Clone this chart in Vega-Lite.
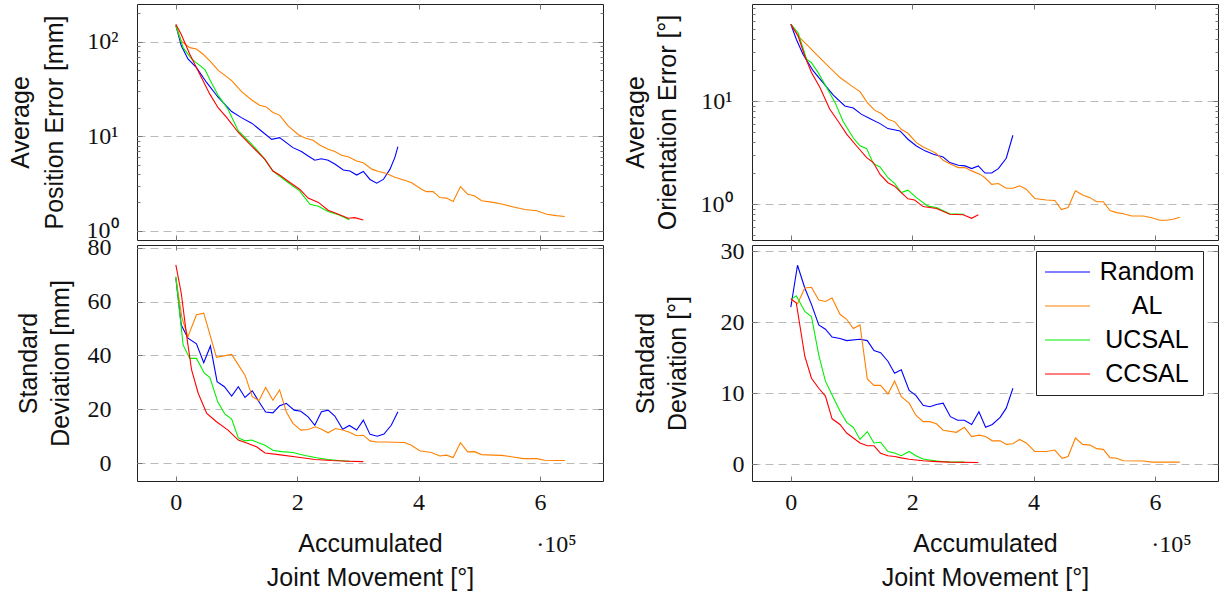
{
"$schema":"https://vega.github.io/schema/vega-lite/v6.json",
"autosize":{"type":"pad"},
"padding":{"left":7,"top":3,"right":0,"bottom":4},
"background":"white",
"data":{"name":"d"},
"datasets":{"d":[
{"p":"TL","m":"Random","x":0,"y":150},{"p":"TL","m":"Random","x":0.09,"y":91},{"p":"TL","m":"Random","x":0.2,"y":66},{"p":"TL","m":"Random","x":0.34,"y":53.5},{"p":"TL","m":"Random","x":0.51,"y":37},{"p":"TL","m":"Random","x":0.7,"y":25.8},{"p":"TL","m":"Random","x":0.92,"y":18.3},{"p":"TL","m":"Random","x":1.08,"y":15.8},{"p":"TL","m":"Random","x":1.25,"y":13.8},{"p":"TL","m":"Random","x":1.41,"y":11.4},{"p":"TL","m":"Random","x":1.58,"y":9.3},{"p":"TL","m":"Random","x":1.71,"y":9.7},{"p":"TL","m":"Random","x":1.93,"y":7.6},{"p":"TL","m":"Random","x":2.07,"y":6.9},{"p":"TL","m":"Random","x":2.18,"y":6.2},{"p":"TL","m":"Random","x":2.29,"y":5.6},{"p":"TL","m":"Random","x":2.4,"y":5.8},{"p":"TL","m":"Random","x":2.51,"y":5.6},{"p":"TL","m":"Random","x":2.62,"y":5.1},{"p":"TL","m":"Random","x":2.76,"y":4.4},{"p":"TL","m":"Random","x":2.87,"y":4.3},{"p":"TL","m":"Random","x":2.98,"y":3.9},{"p":"TL","m":"Random","x":3.09,"y":4.25},{"p":"TL","m":"Random","x":3.2,"y":3.5},{"p":"TL","m":"Random","x":3.31,"y":3.2},{"p":"TL","m":"Random","x":3.42,"y":3.5},{"p":"TL","m":"Random","x":3.53,"y":4.5},{"p":"TL","m":"Random","x":3.61,"y":6.0},{"p":"TL","m":"Random","x":3.66,"y":7.8},
{"p":"TL","m":"AL","x":0,"y":150},{"p":"TL","m":"AL","x":0.09,"y":102},{"p":"TL","m":"AL","x":0.23,"y":87},{"p":"TL","m":"AL","x":0.34,"y":84},{"p":"TL","m":"AL","x":0.45,"y":74},{"p":"TL","m":"AL","x":0.56,"y":63},{"p":"TL","m":"AL","x":0.7,"y":50},{"p":"TL","m":"AL","x":0.92,"y":39},{"p":"TL","m":"AL","x":1.08,"y":30},{"p":"TL","m":"AL","x":1.25,"y":24.3},{"p":"TL","m":"AL","x":1.38,"y":21.4},{"p":"TL","m":"AL","x":1.49,"y":20.5},{"p":"TL","m":"AL","x":1.6,"y":17.9},{"p":"TL","m":"AL","x":1.71,"y":16.8},{"p":"TL","m":"AL","x":1.85,"y":12.9},{"p":"TL","m":"AL","x":2.02,"y":10.4},{"p":"TL","m":"AL","x":2.13,"y":9.6},{"p":"TL","m":"AL","x":2.26,"y":9.1},{"p":"TL","m":"AL","x":2.37,"y":8.1},{"p":"TL","m":"AL","x":2.51,"y":7.3},{"p":"TL","m":"AL","x":2.62,"y":6.9},{"p":"TL","m":"AL","x":2.73,"y":6.3},{"p":"TL","m":"AL","x":2.84,"y":6.1},{"p":"TL","m":"AL","x":2.98,"y":5.5},{"p":"TL","m":"AL","x":3.09,"y":5.25},{"p":"TL","m":"AL","x":3.23,"y":4.5},{"p":"TL","m":"AL","x":3.34,"y":4.25},{"p":"TL","m":"AL","x":3.45,"y":4.1},{"p":"TL","m":"AL","x":3.61,"y":3.7},{"p":"TL","m":"AL","x":3.77,"y":3.44},{"p":"TL","m":"AL","x":3.88,"y":3.25},{"p":"TL","m":"AL","x":4.05,"y":2.76},{"p":"TL","m":"AL","x":4.13,"y":2.6},{"p":"TL","m":"AL","x":4.24,"y":2.6},{"p":"TL","m":"AL","x":4.35,"y":2.25},{"p":"TL","m":"AL","x":4.46,"y":2.22},{"p":"TL","m":"AL","x":4.57,"y":2.04},{"p":"TL","m":"AL","x":4.69,"y":2.94},{"p":"TL","m":"AL","x":4.81,"y":2.44},{"p":"TL","m":"AL","x":4.92,"y":2.35},{"p":"TL","m":"AL","x":5.04,"y":2.08},{"p":"TL","m":"AL","x":5.23,"y":2.0},{"p":"TL","m":"AL","x":5.37,"y":1.92},{"p":"TL","m":"AL","x":5.53,"y":1.81},{"p":"TL","m":"AL","x":5.75,"y":1.68},{"p":"TL","m":"AL","x":5.95,"y":1.63},{"p":"TL","m":"AL","x":6.11,"y":1.5},{"p":"TL","m":"AL","x":6.27,"y":1.45},{"p":"TL","m":"AL","x":6.41,"y":1.42},
{"p":"TL","m":"UCSAL","x":0,"y":150},{"p":"TL","m":"UCSAL","x":0.12,"y":87},{"p":"TL","m":"UCSAL","x":0.26,"y":66},{"p":"TL","m":"UCSAL","x":0.34,"y":60},{"p":"TL","m":"UCSAL","x":0.48,"y":51},{"p":"TL","m":"UCSAL","x":0.56,"y":40},{"p":"TL","m":"UCSAL","x":0.7,"y":27},{"p":"TL","m":"UCSAL","x":0.86,"y":19.4},{"p":"TL","m":"UCSAL","x":1.03,"y":11.4},{"p":"TL","m":"UCSAL","x":1.25,"y":8.3},{"p":"TL","m":"UCSAL","x":1.44,"y":6.0},{"p":"TL","m":"UCSAL","x":1.6,"y":4.3},{"p":"TL","m":"UCSAL","x":1.85,"y":3.25},{"p":"TL","m":"UCSAL","x":2.04,"y":2.65},{"p":"TL","m":"UCSAL","x":2.21,"y":1.91},{"p":"TL","m":"UCSAL","x":2.35,"y":1.82},{"p":"TL","m":"UCSAL","x":2.51,"y":1.6},{"p":"TL","m":"UCSAL","x":2.68,"y":1.48},{"p":"TL","m":"UCSAL","x":2.86,"y":1.31},
{"p":"TL","m":"CCSAL","x":0,"y":154},{"p":"TL","m":"CCSAL","x":0.09,"y":120},{"p":"TL","m":"CCSAL","x":0.23,"y":74},{"p":"TL","m":"CCSAL","x":0.37,"y":49},{"p":"TL","m":"CCSAL","x":0.56,"y":28},{"p":"TL","m":"CCSAL","x":0.7,"y":20},{"p":"TL","m":"CCSAL","x":0.84,"y":15.8},{"p":"TL","m":"CCSAL","x":1.03,"y":11},{"p":"TL","m":"CCSAL","x":1.25,"y":7.9},{"p":"TL","m":"CCSAL","x":1.47,"y":5.7},{"p":"TL","m":"CCSAL","x":1.6,"y":4.3},{"p":"TL","m":"CCSAL","x":1.71,"y":3.9},{"p":"TL","m":"CCSAL","x":1.88,"y":3.25},{"p":"TL","m":"CCSAL","x":2.04,"y":2.76},{"p":"TL","m":"CCSAL","x":2.18,"y":2.22},{"p":"TL","m":"CCSAL","x":2.35,"y":2.0},{"p":"TL","m":"CCSAL","x":2.51,"y":1.65},{"p":"TL","m":"CCSAL","x":2.68,"y":1.5},{"p":"TL","m":"CCSAL","x":2.84,"y":1.36},{"p":"TL","m":"CCSAL","x":2.95,"y":1.38},{"p":"TL","m":"CCSAL","x":3.09,"y":1.3},
{"p":"TR","m":"Random","x":0,"y":56},{"p":"TR","m":"Random","x":0.09,"y":40},{"p":"TR","m":"Random","x":0.2,"y":28.6},{"p":"TR","m":"Random","x":0.37,"y":19.7},{"p":"TR","m":"Random","x":0.53,"y":15.2},{"p":"TR","m":"Random","x":0.7,"y":11.5},{"p":"TR","m":"Random","x":0.89,"y":9.0},{"p":"TR","m":"Random","x":1.03,"y":8.6},{"p":"TR","m":"Random","x":1.16,"y":7.5},{"p":"TR","m":"Random","x":1.3,"y":6.8},{"p":"TR","m":"Random","x":1.47,"y":6.07},{"p":"TR","m":"Random","x":1.6,"y":5.43},{"p":"TR","m":"Random","x":1.8,"y":5.15},{"p":"TR","m":"Random","x":1.93,"y":4.28},{"p":"TR","m":"Random","x":2.07,"y":3.68},{"p":"TR","m":"Random","x":2.21,"y":3.3},{"p":"TR","m":"Random","x":2.35,"y":3.06},{"p":"TR","m":"Random","x":2.51,"y":2.88},{"p":"TR","m":"Random","x":2.62,"y":2.54},{"p":"TR","m":"Random","x":2.76,"y":2.39},{"p":"TR","m":"Random","x":2.87,"y":2.36},{"p":"TR","m":"Random","x":2.98,"y":2.22},{"p":"TR","m":"Random","x":3.09,"y":2.36},{"p":"TR","m":"Random","x":3.2,"y":2.01},{"p":"TR","m":"Random","x":3.31,"y":2.01},{"p":"TR","m":"Random","x":3.42,"y":2.22},{"p":"TR","m":"Random","x":3.55,"y":2.8},{"p":"TR","m":"Random","x":3.66,"y":4.68},
{"p":"TR","m":"AL","x":0,"y":56},{"p":"TR","m":"AL","x":0.12,"y":43},{"p":"TR","m":"AL","x":0.26,"y":35.7},{"p":"TR","m":"AL","x":0.42,"y":28.6},{"p":"TR","m":"AL","x":0.64,"y":21.2},{"p":"TR","m":"AL","x":0.81,"y":17},{"p":"TR","m":"AL","x":1.0,"y":14.1},{"p":"TR","m":"AL","x":1.14,"y":12.4},{"p":"TR","m":"AL","x":1.26,"y":9.7},{"p":"TR","m":"AL","x":1.38,"y":8.2},{"p":"TR","m":"AL","x":1.49,"y":7.6},{"p":"TR","m":"AL","x":1.6,"y":6.7},{"p":"TR","m":"AL","x":1.71,"y":6.35},{"p":"TR","m":"AL","x":1.82,"y":5.35},{"p":"TR","m":"AL","x":1.93,"y":4.89},{"p":"TR","m":"AL","x":2.07,"y":3.97},{"p":"TR","m":"AL","x":2.18,"y":3.6},{"p":"TR","m":"AL","x":2.32,"y":3.3},{"p":"TR","m":"AL","x":2.4,"y":3.1},{"p":"TR","m":"AL","x":2.51,"y":2.67},{"p":"TR","m":"AL","x":2.62,"y":2.48},{"p":"TR","m":"AL","x":2.76,"y":2.27},{"p":"TR","m":"AL","x":2.87,"y":2.27},{"p":"TR","m":"AL","x":2.98,"y":2.11},{"p":"TR","m":"AL","x":3.12,"y":1.95},{"p":"TR","m":"AL","x":3.2,"y":1.81},{"p":"TR","m":"AL","x":3.31,"y":1.56},{"p":"TR","m":"AL","x":3.42,"y":1.59},{"p":"TR","m":"AL","x":3.55,"y":1.43},{"p":"TR","m":"AL","x":3.66,"y":1.43},{"p":"TR","m":"AL","x":3.77,"y":1.51},{"p":"TR","m":"AL","x":3.88,"y":1.4},{"p":"TR","m":"AL","x":4.02,"y":1.14},{"p":"TR","m":"AL","x":4.21,"y":1.1},{"p":"TR","m":"AL","x":4.35,"y":1.09},{"p":"TR","m":"AL","x":4.46,"y":0.89},{"p":"TR","m":"AL","x":4.57,"y":0.93},{"p":"TR","m":"AL","x":4.69,"y":1.35},{"p":"TR","m":"AL","x":4.81,"y":1.23},{"p":"TR","m":"AL","x":4.93,"y":1.16},{"p":"TR","m":"AL","x":5.04,"y":1.06},{"p":"TR","m":"AL","x":5.15,"y":1.06},{"p":"TR","m":"AL","x":5.26,"y":0.87},{"p":"TR","m":"AL","x":5.37,"y":0.83},{"p":"TR","m":"AL","x":5.48,"y":0.81},{"p":"TR","m":"AL","x":5.62,"y":0.77},{"p":"TR","m":"AL","x":5.81,"y":0.77},{"p":"TR","m":"AL","x":5.95,"y":0.74},{"p":"TR","m":"AL","x":6.08,"y":0.7},{"p":"TR","m":"AL","x":6.19,"y":0.7},{"p":"TR","m":"AL","x":6.3,"y":0.715},{"p":"TR","m":"AL","x":6.41,"y":0.75},
{"p":"TR","m":"UCSAL","x":0,"y":56},{"p":"TR","m":"UCSAL","x":0.12,"y":46},{"p":"TR","m":"UCSAL","x":0.26,"y":25.6},{"p":"TR","m":"UCSAL","x":0.34,"y":23.7},{"p":"TR","m":"UCSAL","x":0.45,"y":19},{"p":"TR","m":"UCSAL","x":0.59,"y":13.6},{"p":"TR","m":"UCSAL","x":0.73,"y":9.7},{"p":"TR","m":"UCSAL","x":0.86,"y":6.4},{"p":"TR","m":"UCSAL","x":1.03,"y":4.4},{"p":"TR","m":"UCSAL","x":1.14,"y":3.7},{"p":"TR","m":"UCSAL","x":1.25,"y":3.47},{"p":"TR","m":"UCSAL","x":1.36,"y":2.48},{"p":"TR","m":"UCSAL","x":1.47,"y":2.3},{"p":"TR","m":"UCSAL","x":1.6,"y":1.81},{"p":"TR","m":"UCSAL","x":1.71,"y":1.6},{"p":"TR","m":"UCSAL","x":1.82,"y":1.3},{"p":"TR","m":"UCSAL","x":1.93,"y":1.37},{"p":"TR","m":"UCSAL","x":2.07,"y":1.16},{"p":"TR","m":"UCSAL","x":2.26,"y":0.96},{"p":"TR","m":"UCSAL","x":2.4,"y":0.93},{"p":"TR","m":"UCSAL","x":2.62,"y":0.81},{"p":"TR","m":"UCSAL","x":2.86,"y":0.8},
{"p":"TR","m":"CCSAL","x":0,"y":56},{"p":"TR","m":"CCSAL","x":0.12,"y":43},{"p":"TR","m":"CCSAL","x":0.23,"y":27.5},{"p":"TR","m":"CCSAL","x":0.34,"y":19},{"p":"TR","m":"CCSAL","x":0.48,"y":13.6},{"p":"TR","m":"CCSAL","x":0.64,"y":8.4},{"p":"TR","m":"CCSAL","x":0.78,"y":6.4},{"p":"TR","m":"CCSAL","x":0.92,"y":4.8},{"p":"TR","m":"CCSAL","x":1.08,"y":3.7},{"p":"TR","m":"CCSAL","x":1.25,"y":2.84},{"p":"TR","m":"CCSAL","x":1.36,"y":2.54},{"p":"TR","m":"CCSAL","x":1.47,"y":1.95},{"p":"TR","m":"CCSAL","x":1.6,"y":1.62},{"p":"TR","m":"CCSAL","x":1.71,"y":1.5},{"p":"TR","m":"CCSAL","x":1.82,"y":1.3},{"p":"TR","m":"CCSAL","x":1.93,"y":1.13},{"p":"TR","m":"CCSAL","x":2.04,"y":1.1},{"p":"TR","m":"CCSAL","x":2.18,"y":0.95},{"p":"TR","m":"CCSAL","x":2.4,"y":0.91},{"p":"TR","m":"CCSAL","x":2.62,"y":0.8},{"p":"TR","m":"CCSAL","x":2.84,"y":0.79},{"p":"TR","m":"CCSAL","x":2.98,"y":0.73},{"p":"TR","m":"CCSAL","x":3.09,"y":0.79},
{"p":"BL","m":"Random","x":0,"y":68.7},{"p":"BL","m":"Random","x":0.09,"y":51.3},{"p":"BL","m":"Random","x":0.2,"y":46.4},{"p":"BL","m":"Random","x":0.34,"y":44.3},{"p":"BL","m":"Random","x":0.46,"y":37.3},{"p":"BL","m":"Random","x":0.57,"y":43.5},{"p":"BL","m":"Random","x":0.68,"y":30.3},{"p":"BL","m":"Random","x":0.8,"y":28.4},{"p":"BL","m":"Random","x":0.92,"y":24.9},{"p":"BL","m":"Random","x":1.03,"y":28.4},{"p":"BL","m":"Random","x":1.14,"y":24.4},{"p":"BL","m":"Random","x":1.26,"y":26.9},{"p":"BL","m":"Random","x":1.37,"y":22.8},{"p":"BL","m":"Random","x":1.48,"y":19.0},{"p":"BL","m":"Random","x":1.6,"y":18.7},{"p":"BL","m":"Random","x":1.71,"y":21.3},{"p":"BL","m":"Random","x":1.82,"y":22.2},{"p":"BL","m":"Random","x":1.95,"y":19.7},{"p":"BL","m":"Random","x":2.06,"y":19.3},{"p":"BL","m":"Random","x":2.18,"y":17.2},{"p":"BL","m":"Random","x":2.29,"y":14.1},{"p":"BL","m":"Random","x":2.4,"y":19.1},{"p":"BL","m":"Random","x":2.51,"y":19.7},{"p":"BL","m":"Random","x":2.62,"y":17.5},{"p":"BL","m":"Random","x":2.75,"y":12.6},{"p":"BL","m":"Random","x":2.86,"y":14.0},{"p":"BL","m":"Random","x":2.98,"y":12.3},{"p":"BL","m":"Random","x":3.09,"y":16.0},{"p":"BL","m":"Random","x":3.2,"y":10.7},{"p":"BL","m":"Random","x":3.32,"y":10.0},{"p":"BL","m":"Random","x":3.43,"y":10.8},{"p":"BL","m":"Random","x":3.55,"y":14.1},{"p":"BL","m":"Random","x":3.66,"y":19.1},
{"p":"BL","m":"AL","x":0,"y":69},{"p":"BL","m":"AL","x":0.1,"y":54},{"p":"BL","m":"AL","x":0.2,"y":47},{"p":"BL","m":"AL","x":0.34,"y":55.1},{"p":"BL","m":"AL","x":0.46,"y":55.7},{"p":"BL","m":"AL","x":0.67,"y":39.3},{"p":"BL","m":"AL","x":0.92,"y":40.4},{"p":"BL","m":"AL","x":1.03,"y":36.5},{"p":"BL","m":"AL","x":1.14,"y":32.7},{"p":"BL","m":"AL","x":1.26,"y":24.7},{"p":"BL","m":"AL","x":1.37,"y":23.2},{"p":"BL","m":"AL","x":1.48,"y":28.1},{"p":"BL","m":"AL","x":1.6,"y":23.4},{"p":"BL","m":"AL","x":1.71,"y":27.2},{"p":"BL","m":"AL","x":1.82,"y":19.1},{"p":"BL","m":"AL","x":1.93,"y":14.8},{"p":"BL","m":"AL","x":2.06,"y":12.3},{"p":"BL","m":"AL","x":2.18,"y":12.5},{"p":"BL","m":"AL","x":2.3,"y":13.5},{"p":"BL","m":"AL","x":2.4,"y":12.6},{"p":"BL","m":"AL","x":2.51,"y":11.3},{"p":"BL","m":"AL","x":2.63,"y":12.9},{"p":"BL","m":"AL","x":2.75,"y":12.3},{"p":"BL","m":"AL","x":2.86,"y":11.5},{"p":"BL","m":"AL","x":2.98,"y":10.2},{"p":"BL","m":"AL","x":3.09,"y":10.4},{"p":"BL","m":"AL","x":3.2,"y":8.3},{"p":"BL","m":"AL","x":3.31,"y":7.9},{"p":"BL","m":"AL","x":3.45,"y":7.9},{"p":"BL","m":"AL","x":3.61,"y":7.8},{"p":"BL","m":"AL","x":3.77,"y":7.7},{"p":"BL","m":"AL","x":3.88,"y":6.7},{"p":"BL","m":"AL","x":4.02,"y":4.6},{"p":"BL","m":"AL","x":4.21,"y":4.0},{"p":"BL","m":"AL","x":4.35,"y":2.7},{"p":"BL","m":"AL","x":4.46,"y":3.0},{"p":"BL","m":"AL","x":4.57,"y":2.1},{"p":"BL","m":"AL","x":4.69,"y":7.6},{"p":"BL","m":"AL","x":4.81,"y":4.2},{"p":"BL","m":"AL","x":4.92,"y":4.3},{"p":"BL","m":"AL","x":5.04,"y":3.2},{"p":"BL","m":"AL","x":5.23,"y":3.0},{"p":"BL","m":"AL","x":5.37,"y":2.9},{"p":"BL","m":"AL","x":5.53,"y":2.4},{"p":"BL","m":"AL","x":5.73,"y":1.7},{"p":"BL","m":"AL","x":5.95,"y":1.7},{"p":"BL","m":"AL","x":6.08,"y":1.1},{"p":"BL","m":"AL","x":6.27,"y":1.0},{"p":"BL","m":"AL","x":6.41,"y":1.0},
{"p":"BL","m":"UCSAL","x":0,"y":69.3},{"p":"BL","m":"UCSAL","x":0.12,"y":43.9},{"p":"BL","m":"UCSAL","x":0.23,"y":38.9},{"p":"BL","m":"UCSAL","x":0.34,"y":38.9},{"p":"BL","m":"UCSAL","x":0.47,"y":33.4},{"p":"BL","m":"UCSAL","x":0.56,"y":31.9},{"p":"BL","m":"UCSAL","x":0.69,"y":22.8},{"p":"BL","m":"UCSAL","x":0.81,"y":18.2},{"p":"BL","m":"UCSAL","x":0.92,"y":16.4},{"p":"BL","m":"UCSAL","x":1.03,"y":9.4},{"p":"BL","m":"UCSAL","x":1.14,"y":8.3},{"p":"BL","m":"UCSAL","x":1.25,"y":8.6},{"p":"BL","m":"UCSAL","x":1.36,"y":7.6},{"p":"BL","m":"UCSAL","x":1.47,"y":6.7},{"p":"BL","m":"UCSAL","x":1.6,"y":4.8},{"p":"BL","m":"UCSAL","x":1.74,"y":4.3},{"p":"BL","m":"UCSAL","x":1.93,"y":4.0},{"p":"BL","m":"UCSAL","x":2.13,"y":2.85},{"p":"BL","m":"UCSAL","x":2.32,"y":2.0},{"p":"BL","m":"UCSAL","x":2.51,"y":1.36},{"p":"BL","m":"UCSAL","x":2.68,"y":1.0},{"p":"BL","m":"UCSAL","x":2.86,"y":0.75},
{"p":"BL","m":"CCSAL","x":0,"y":73.6},{"p":"BL","m":"CCSAL","x":0.09,"y":63},{"p":"BL","m":"CCSAL","x":0.18,"y":47},{"p":"BL","m":"CCSAL","x":0.26,"y":34.6},{"p":"BL","m":"CCSAL","x":0.37,"y":25.9},{"p":"BL","m":"CCSAL","x":0.51,"y":18.5},{"p":"BL","m":"CCSAL","x":0.67,"y":15.4},{"p":"BL","m":"CCSAL","x":0.86,"y":12.3},{"p":"BL","m":"CCSAL","x":1.03,"y":8.6},{"p":"BL","m":"CCSAL","x":1.19,"y":7.3},{"p":"BL","m":"CCSAL","x":1.33,"y":6.1},{"p":"BL","m":"CCSAL","x":1.47,"y":3.8},{"p":"BL","m":"CCSAL","x":1.69,"y":3.2},{"p":"BL","m":"CCSAL","x":2.02,"y":2.2},{"p":"BL","m":"CCSAL","x":2.29,"y":1.4},{"p":"BL","m":"CCSAL","x":2.57,"y":1.0},{"p":"BL","m":"CCSAL","x":2.84,"y":0.75},{"p":"BL","m":"CCSAL","x":3.09,"y":0.6},
{"p":"BR","m":"Random","x":0,"y":22.1},{"p":"BR","m":"Random","x":0.11,"y":28.0},{"p":"BR","m":"Random","x":0.23,"y":24.8},{"p":"BR","m":"Random","x":0.34,"y":22.5},{"p":"BR","m":"Random","x":0.46,"y":19.6},{"p":"BR","m":"Random","x":0.57,"y":19.0},{"p":"BR","m":"Random","x":0.68,"y":17.9},{"p":"BR","m":"Random","x":0.81,"y":17.7},{"p":"BR","m":"Random","x":0.92,"y":17.4},{"p":"BR","m":"Random","x":1.14,"y":17.6},{"p":"BR","m":"Random","x":1.26,"y":17.4},{"p":"BR","m":"Random","x":1.37,"y":16.0},{"p":"BR","m":"Random","x":1.48,"y":15.7},{"p":"BR","m":"Random","x":1.6,"y":14.5},{"p":"BR","m":"Random","x":1.71,"y":12.8},{"p":"BR","m":"Random","x":1.82,"y":13.3},{"p":"BR","m":"Random","x":1.95,"y":10.4},{"p":"BR","m":"Random","x":2.06,"y":9.7},{"p":"BR","m":"Random","x":2.18,"y":8.3},{"p":"BR","m":"Random","x":2.29,"y":8.1},{"p":"BR","m":"Random","x":2.4,"y":8.4},{"p":"BR","m":"Random","x":2.51,"y":8.6},{"p":"BR","m":"Random","x":2.63,"y":6.7},{"p":"BR","m":"Random","x":2.75,"y":6.2},{"p":"BR","m":"Random","x":2.86,"y":6.2},{"p":"BR","m":"Random","x":2.98,"y":5.6},{"p":"BR","m":"Random","x":3.1,"y":7.4},{"p":"BR","m":"Random","x":3.21,"y":5.2},{"p":"BR","m":"Random","x":3.32,"y":5.6},{"p":"BR","m":"Random","x":3.45,"y":6.6},{"p":"BR","m":"Random","x":3.55,"y":7.9},{"p":"BR","m":"Random","x":3.66,"y":10.7},
{"p":"BR","m":"AL","x":0,"y":23.2},{"p":"BR","m":"AL","x":0.11,"y":22.6},{"p":"BR","m":"AL","x":0.23,"y":24.8},{"p":"BR","m":"AL","x":0.34,"y":24.9},{"p":"BR","m":"AL","x":0.46,"y":23.1},{"p":"BR","m":"AL","x":0.57,"y":22.9},{"p":"BR","m":"AL","x":0.68,"y":23.4},{"p":"BR","m":"AL","x":0.81,"y":21.1},{"p":"BR","m":"AL","x":0.92,"y":20.4},{"p":"BR","m":"AL","x":1.03,"y":19.1},{"p":"BR","m":"AL","x":1.14,"y":19.6},{"p":"BR","m":"AL","x":1.26,"y":12.0},{"p":"BR","m":"AL","x":1.37,"y":11.1},{"p":"BR","m":"AL","x":1.48,"y":11.1},{"p":"BR","m":"AL","x":1.6,"y":9.9},{"p":"BR","m":"AL","x":1.71,"y":11.7},{"p":"BR","m":"AL","x":1.82,"y":9.5},{"p":"BR","m":"AL","x":1.95,"y":8.6},{"p":"BR","m":"AL","x":2.06,"y":6.9},{"p":"BR","m":"AL","x":2.18,"y":6.0},{"p":"BR","m":"AL","x":2.29,"y":6.0},{"p":"BR","m":"AL","x":2.4,"y":5.7},{"p":"BR","m":"AL","x":2.51,"y":4.8},{"p":"BR","m":"AL","x":2.73,"y":4.5},{"p":"BR","m":"AL","x":2.86,"y":5.2},{"p":"BR","m":"AL","x":2.98,"y":3.9},{"p":"BR","m":"AL","x":3.1,"y":4.1},{"p":"BR","m":"AL","x":3.21,"y":3.9},{"p":"BR","m":"AL","x":3.32,"y":3.3},{"p":"BR","m":"AL","x":3.45,"y":3.3},{"p":"BR","m":"AL","x":3.55,"y":2.8},{"p":"BR","m":"AL","x":3.66,"y":2.9},{"p":"BR","m":"AL","x":3.77,"y":3.5},{"p":"BR","m":"AL","x":3.88,"y":3.0},{"p":"BR","m":"AL","x":4.02,"y":1.8},{"p":"BR","m":"AL","x":4.21,"y":1.8},{"p":"BR","m":"AL","x":4.35,"y":2.0},{"p":"BR","m":"AL","x":4.47,"y":0.85},{"p":"BR","m":"AL","x":4.57,"y":1.1},{"p":"BR","m":"AL","x":4.69,"y":3.7},{"p":"BR","m":"AL","x":4.81,"y":2.8},{"p":"BR","m":"AL","x":4.93,"y":2.7},{"p":"BR","m":"AL","x":5.04,"y":2.2},{"p":"BR","m":"AL","x":5.15,"y":2.1},{"p":"BR","m":"AL","x":5.26,"y":0.94},{"p":"BR","m":"AL","x":5.37,"y":0.85},{"p":"BR","m":"AL","x":5.48,"y":0.5},{"p":"BR","m":"AL","x":5.81,"y":0.47},{"p":"BR","m":"AL","x":5.95,"y":0.3},{"p":"BR","m":"AL","x":6.41,"y":0.3},
{"p":"BR","m":"UCSAL","x":0,"y":23.2},{"p":"BR","m":"UCSAL","x":0.09,"y":23.7},{"p":"BR","m":"UCSAL","x":0.23,"y":21.5},{"p":"BR","m":"UCSAL","x":0.34,"y":20.8},{"p":"BR","m":"UCSAL","x":0.46,"y":15.4},{"p":"BR","m":"UCSAL","x":0.57,"y":11.7},{"p":"BR","m":"UCSAL","x":0.7,"y":9.4},{"p":"BR","m":"UCSAL","x":0.81,"y":7.5},{"p":"BR","m":"UCSAL","x":0.92,"y":5.9},{"p":"BR","m":"UCSAL","x":1.03,"y":5.2},{"p":"BR","m":"UCSAL","x":1.14,"y":3.5},{"p":"BR","m":"UCSAL","x":1.26,"y":4.6},{"p":"BR","m":"UCSAL","x":1.37,"y":3.0},{"p":"BR","m":"UCSAL","x":1.48,"y":3.1},{"p":"BR","m":"UCSAL","x":1.6,"y":1.8},{"p":"BR","m":"UCSAL","x":1.71,"y":1.6},{"p":"BR","m":"UCSAL","x":1.82,"y":1.2},{"p":"BR","m":"UCSAL","x":1.95,"y":1.8},{"p":"BR","m":"UCSAL","x":2.06,"y":1.2},{"p":"BR","m":"UCSAL","x":2.18,"y":0.75},{"p":"BR","m":"UCSAL","x":2.4,"y":0.47},{"p":"BR","m":"UCSAL","x":2.62,"y":0.33},{"p":"BR","m":"UCSAL","x":2.86,"y":0.3},
{"p":"BR","m":"CCSAL","x":0,"y":23.3},{"p":"BR","m":"CCSAL","x":0.09,"y":22.7},{"p":"BR","m":"CCSAL","x":0.23,"y":15.2},{"p":"BR","m":"CCSAL","x":0.34,"y":12.1},{"p":"BR","m":"CCSAL","x":0.46,"y":10.7},{"p":"BR","m":"CCSAL","x":0.57,"y":9.6},{"p":"BR","m":"CCSAL","x":0.68,"y":6.4},{"p":"BR","m":"CCSAL","x":0.81,"y":5.6},{"p":"BR","m":"CCSAL","x":0.92,"y":4.4},{"p":"BR","m":"CCSAL","x":1.03,"y":3.7},{"p":"BR","m":"CCSAL","x":1.14,"y":3.0},{"p":"BR","m":"CCSAL","x":1.26,"y":2.6},{"p":"BR","m":"CCSAL","x":1.37,"y":2.6},{"p":"BR","m":"CCSAL","x":1.48,"y":1.55},{"p":"BR","m":"CCSAL","x":1.6,"y":1.2},{"p":"BR","m":"CCSAL","x":1.71,"y":1.1},{"p":"BR","m":"CCSAL","x":1.82,"y":0.9},{"p":"BR","m":"CCSAL","x":1.95,"y":0.7},{"p":"BR","m":"CCSAL","x":2.18,"y":0.5},{"p":"BR","m":"CCSAL","x":2.4,"y":0.38},{"p":"BR","m":"CCSAL","x":2.62,"y":0.3},{"p":"BR","m":"CCSAL","x":3.09,"y":0.25}
]},
"columns":2,
"spacing":{"row":5,"column":149},
"bounds":"flush",
"resolve":{"scale":{"x":"independent","y":"independent","color":"independent"},"legend":{"color":"independent"}},
"concat":[
{"width":466,"height":236,
 "transform":[{"filter":"datum.p=='TL'"}],
 "resolve":{"axis":{"x":"independent","y":"independent"}},
 "layer":[
  {"mark":{"type":"line","strokeWidth":1.1},
   "encoding":{
    "x":{"field":"x","type":"quantitative","scale":{"domain":[-0.64,7.04],"nice":false,"zero":false},"axis":{"orient":"bottom","values":[0,2,4,6],"labels":false,"tickSize":-5,"grid":false,"title":null}},
    "y":{"field":"y","type":"quantitative","scale":{"type":"log","domain":[0.8,252],"nice":false},"axis":{"orient":"left","values":[1,2,3,4,5,6,7,8,9,10,20,30,40,50,60,70,80,90,100,200],"grid":true,
      "gridOpacity":{"condition":{"test":"datum.value==1||datum.value==10||datum.value==100","value":1},"value":0},
      "tickSize":{"condition":{"test":"datum.value==1||datum.value==10||datum.value==100","value":-5},"value":-3},
      "labelFontSize":{"condition":{"test":"datum.value==1||datum.value==10||datum.value==100","value":24},"value":0},
      "labelExpr":"datum.value==1?'10⁰':datum.value==10?'10¹':datum.value==100?'10²':''",
      "labelPadding":24,"title":["Average","Position Error [mm]"],"titlePadding":19,"titleLineHeight":34}},
    "color":{"field":"m","type":"nominal","scale":{"domain":["Random","AL","UCSAL","CCSAL"],"range":["#0000ff","#ff8000","#00f000","#ff0000"]},"legend":null}
   }},
  {"mark":{"type":"line","opacity":0},
   "encoding":{
    "x":{"field":"x","type":"quantitative","scale":{"domain":[-0.64,7.04],"nice":false,"zero":false},"axis":{"orient":"top","values":[0,2,4,6],"labels":false,"tickSize":-5,"grid":false,"title":null}},
    "y":{"field":"y","type":"quantitative","scale":{"type":"log","domain":[0.8,252],"nice":false},"axis":{"orient":"right","values":[1,2,3,4,5,6,7,8,9,10,20,30,40,50,60,70,80,90,100,200],"grid":false,"labels":false,
      "tickSize":{"condition":{"test":"datum.value==1||datum.value==10||datum.value==100","value":-5},"value":-3},"title":null}}
   }}
 ]},
{"width":466,"height":236,
 "transform":[{"filter":"datum.p=='TR'"}],
 "resolve":{"axis":{"x":"independent","y":"independent"}},
 "layer":[
  {"mark":{"type":"line","strokeWidth":1.1},
   "encoding":{
    "x":{"field":"x","type":"quantitative","scale":{"domain":[-0.64,7.04],"nice":false,"zero":false},"axis":{"orient":"bottom","values":[0,2,4,6],"labels":false,"tickSize":-5,"grid":false,"title":null}},
    "y":{"field":"y","type":"quantitative","scale":{"type":"log","domain":[0.45,88],"nice":false},"axis":{"orient":"left","values":[0.5,0.6,0.7,0.8,0.9,1,2,3,4,5,6,7,8,9,10,20,30,40,50,60,70,80],"grid":true,
      "gridOpacity":{"condition":{"test":"datum.value==1||datum.value==10","value":1},"value":0},
      "tickSize":{"condition":{"test":"datum.value==1||datum.value==10","value":-5},"value":-3},
      "labelFontSize":{"condition":{"test":"datum.value==1||datum.value==10","value":24},"value":0},
      "labelExpr":"datum.value==1?'10⁰':datum.value==10?'10¹':''",
      "labelPadding":25,"title":["Average","Orientation Error [°]"],"titlePadding":20}},
    "color":{"field":"m","type":"nominal","scale":{"domain":["Random","AL","UCSAL","CCSAL"],"range":["#0000ff","#ff8000","#00f000","#ff0000"]},"legend":null}
   }},
  {"mark":{"type":"line","opacity":0},
   "encoding":{
    "x":{"field":"x","type":"quantitative","scale":{"domain":[-0.64,7.04],"nice":false,"zero":false},"axis":{"orient":"top","values":[0,2,4,6],"labels":false,"tickSize":-5,"grid":false,"title":null}},
    "y":{"field":"y","type":"quantitative","scale":{"type":"log","domain":[0.45,88],"nice":false},"axis":{"orient":"right","values":[0.5,0.6,0.7,0.8,0.9,1,2,3,4,5,6,7,8,9,10,20,30,40,50,60,70,80],"grid":false,"labels":false,
      "tickSize":{"condition":{"test":"datum.value==1||datum.value==10","value":-5},"value":-3},"title":null}}
   }}
 ]},
{"width":466,"height":236,
 "transform":[{"filter":"datum.p=='BL'"}],
 "resolve":{"axis":{"x":"independent","y":"independent"}},
 "layer":[
  {"mark":{"type":"line","strokeWidth":1.1},
   "encoding":{
    "x":{"field":"x","type":"quantitative","scale":{"domain":[-0.64,7.04],"nice":false,"zero":false},"axis":{"orient":"bottom","values":[0,2,4,6],"labels":true,"tickSize":-5,"labelPadding":14,"grid":false,"title":["Accumulated","Joint Movement [°]"],"titlePadding":17,"titleLineHeight":34}},
    "y":{"field":"y","type":"quantitative","scale":{"domain":[-6.6,81],"nice":false,"zero":false},"axis":{"orient":"left","values":[0,20,40,60,80],"grid":true,"tickSize":-5,
      "labelPadding":31,"title":["Standard","Deviation [mm]"],"titlePadding":14}},
    "color":{"field":"m","type":"nominal","scale":{"domain":["Random","AL","UCSAL","CCSAL"],"range":["#0000ff","#ff8000","#00f000","#ff0000"]},"legend":null}
   }},
  {"mark":{"type":"line","opacity":0},
   "encoding":{
    "x":{"field":"x","type":"quantitative","scale":{"domain":[-0.64,7.04],"nice":false,"zero":false},"axis":{"orient":"top","values":[0,2,4,6],"labels":false,"tickSize":-5,"grid":false,"title":null}},
    "y":{"field":"y","type":"quantitative","scale":{"domain":[-6.6,81],"nice":false,"zero":false},"axis":{"orient":"right","values":[0,20,40,60,80],"grid":false,"labels":false,"tickSize":-5,"title":null}}
   }},
  {"mark":{"type":"line","opacity":0},
   "encoding":{
    "x":{"field":"x","type":"quantitative","scale":{"domain":[-0.64,7.04],"nice":false,"zero":false},"axis":{"orient":"bottom","labels":false,"ticks":false,"grid":false,"title":"·10⁵","titleX":419,"titleY":70,"titleAlign":"center","titleBaseline":"alphabetic","titleFont":"Liberation Serif","titleFontSize":24}},
    "y":{"field":"y","type":"quantitative","scale":{"domain":[-6.6,81],"nice":false,"zero":false},"axis":null}
   }}
 ]},
{"width":466,"height":236,
 "transform":[{"filter":"datum.p=='BR'"}],
 "resolve":{"axis":{"x":"independent","y":"independent"}},
 "layer":[
  {"mark":{"type":"line","strokeWidth":1.1},
   "encoding":{
    "x":{"field":"x","type":"quantitative","scale":{"domain":[-0.64,7.04],"nice":false,"zero":false},"axis":{"orient":"bottom","values":[0,2,4,6],"labels":true,"tickSize":-5,"labelPadding":14,"grid":false,"title":["Accumulated","Joint Movement [°]"],"titlePadding":17,"titleLineHeight":34}},
    "y":{"field":"y","type":"quantitative","scale":{"domain":[-2.35,30.85],"nice":false,"zero":false},"axis":{"orient":"left","values":[0,10,20,30],"grid":true,"tickSize":-5,
      "labelPadding":13,"title":["Standard","Deviation [°]"],"titlePadding":30}},
    "color":{"field":"m","type":"nominal","title":null,"scale":{"domain":["Random","AL","UCSAL","CCSAL"],"range":["#0000ff","#ff8000","#00f000","#ff0000"]},
      "legend":{"orient":"none","legendX":284,"legendY":6,"title":null,"labelFont":"Liberation Sans","labelFontSize":25,"labelColor":"#000","labelAlign":"center","labelOffset":56,"labelLimit":300,"symbolType":"stroke","symbolSize":2025,"symbolStrokeWidth":1.2,"strokeColor":"#222","fillColor":"white","padding":8,"rowPadding":8,"clipHeight":26}}
   }},
  {"mark":{"type":"line","opacity":0},
   "encoding":{
    "x":{"field":"x","type":"quantitative","scale":{"domain":[-0.64,7.04],"nice":false,"zero":false},"axis":{"orient":"top","values":[0,2,4,6],"labels":false,"tickSize":-5,"grid":false,"title":null}},
    "y":{"field":"y","type":"quantitative","scale":{"domain":[-2.35,30.85],"nice":false,"zero":false},"axis":{"orient":"right","values":[0,10,20,30],"grid":false,"labels":false,"tickSize":-5,"title":null}}
   }},
  {"mark":{"type":"line","opacity":0},
   "encoding":{
    "x":{"field":"x","type":"quantitative","scale":{"domain":[-0.64,7.04],"nice":false,"zero":false},"axis":{"orient":"bottom","labels":false,"ticks":false,"grid":false,"title":"·10⁵","titleX":419,"titleY":70,"titleAlign":"center","titleBaseline":"alphabetic","titleFont":"Liberation Serif","titleFontSize":24}},
    "y":{"field":"y","type":"quantitative","scale":{"domain":[-2.35,30.85],"nice":false,"zero":false},"axis":null}
   }}
 ]}
],
"config":{
 "view":{"stroke":"#222","strokeWidth":1},
 "axis":{"domain":false,"labelFont":"Liberation Serif","labelFontSize":24,"labelColor":"#111","labelOverlap":false,"labelFlush":false,
   "titleFont":"Liberation Sans","titleFontSize":25,"titleFontWeight":"normal","titleColor":"#111","titleLineHeight":32,
   "tickColor":"#777","tickWidth":1,"gridColor":"#bbbbbb","gridDash":[8,5],"gridWidth":1}
}
}
